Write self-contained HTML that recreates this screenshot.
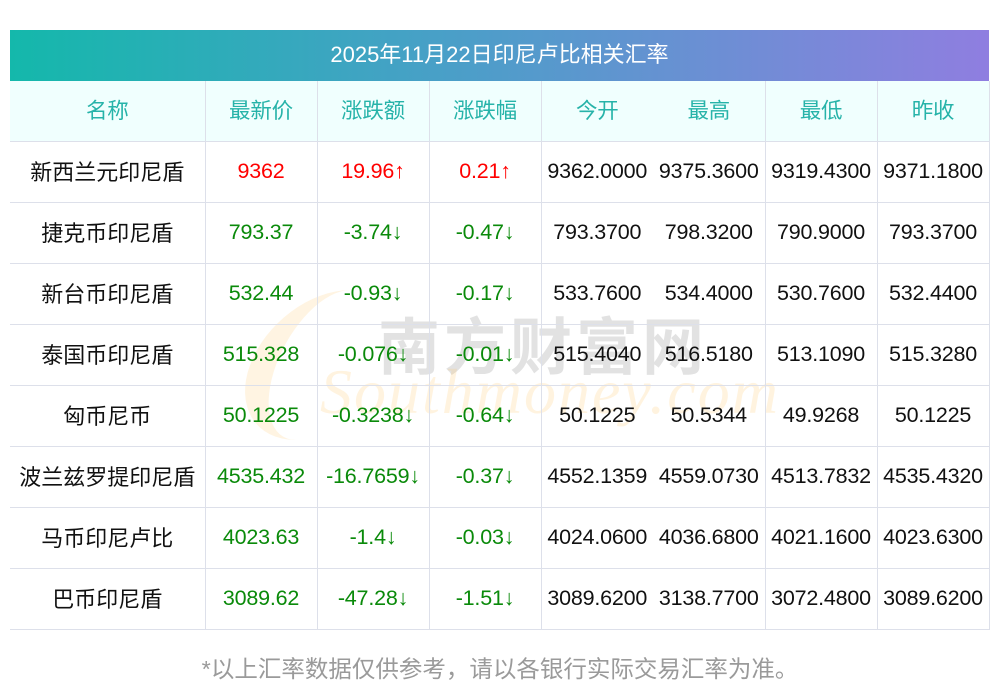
<!DOCTYPE html>
<html><head><meta charset="utf-8"><style>
body{margin:0;width:1000px;height:697px;background:#fff;position:relative;overflow:hidden;font-family:"Liberation Sans","Noto Sans CJK SC",sans-serif}
.title{position:absolute;left:10px;top:30px;width:979px;height:51px;background:linear-gradient(90deg,#14b8ab,#4a9fc8 45%,#8f7ee0);color:#fff;font-size:22px;line-height:49px;text-align:center}
table{position:absolute;left:10px;top:81px;border-collapse:collapse;table-layout:fixed;width:979px}
td{height:58px;padding:0 0 2px 0;border-bottom:1px solid #dde0ea;border-right:1px solid #dde0ea;text-align:center;font-size:21.5px;color:#111;white-space:nowrap;letter-spacing:-0.2px}
tr.h td{background:#f0fffe;color:#26b3a9;font-size:21.5px;height:56px;padding-bottom:4px}
td.nb{border-right:none}
td.n{font-size:22px;letter-spacing:0}
.r{color:#f00}.g{color:#0a8a0a}
.foot{position:absolute;top:650px;left:0;width:1000px;text-align:center;color:#9a9a9a;font-size:23.5px}
.wm1{position:absolute;left:378px;top:297px;font-size:62px;color:rgba(150,150,150,.28);letter-spacing:4px;font-weight:bold}
.wm2{position:absolute;left:320px;top:355px;font-size:64px;font-style:italic;color:rgba(255,200,110,.22);font-family:"Liberation Serif",serif;letter-spacing:2px}
.wm3{position:absolute;left:250px;top:290px;width:120px;height:150px;border-left:26px solid rgba(255,200,110,.2);border-radius:60% 0 0 60%;transform:skewX(-20deg)}
</style></head><body>
<div class="title">2025年11月22日印尼卢比相关汇率</div>
<div class="wm3"></div><div class="wm1">南方财富网</div><div class="wm2">Southmoney.com</div>
<table>
<colgroup><col style="width:195px"><col style="width:112px"><col style="width:112px"><col style="width:112px"><col style="width:112px"><col style="width:112px"><col style="width:112px"><col style="width:112px"></colgroup>
<tr class="h"><td>名称</td><td>最新价</td><td>涨跌额</td><td>涨跌幅</td><td class="nb">今开</td><td>最高</td><td>最低</td><td>昨收</td></tr>
<tr><td class="n">新西兰元印尼盾</td><td class="r">9362</td><td class="r">19.96↑</td><td class="r">0.21↑</td><td class="nb">9362.0000</td><td>9375.3600</td><td>9319.4300</td><td>9371.1800</td></tr>
<tr><td class="n">捷克币印尼盾</td><td class="g">793.37</td><td class="g">-3.74↓</td><td class="g">-0.47↓</td><td class="nb">793.3700</td><td>798.3200</td><td>790.9000</td><td>793.3700</td></tr>
<tr><td class="n">新台币印尼盾</td><td class="g">532.44</td><td class="g">-0.93↓</td><td class="g">-0.17↓</td><td class="nb">533.7600</td><td>534.4000</td><td>530.7600</td><td>532.4400</td></tr>
<tr><td class="n">泰国币印尼盾</td><td class="g">515.328</td><td class="g">-0.076↓</td><td class="g">-0.01↓</td><td class="nb">515.4040</td><td>516.5180</td><td>513.1090</td><td>515.3280</td></tr>
<tr><td class="n">匈币尼币</td><td class="g">50.1225</td><td class="g">-0.3238↓</td><td class="g">-0.64↓</td><td class="nb">50.1225</td><td>50.5344</td><td>49.9268</td><td>50.1225</td></tr>
<tr><td class="n">波兰兹罗提印尼盾</td><td class="g">4535.432</td><td class="g">-16.7659↓</td><td class="g">-0.37↓</td><td class="nb">4552.1359</td><td>4559.0730</td><td>4513.7832</td><td>4535.4320</td></tr>
<tr><td class="n">马币印尼卢比</td><td class="g">4023.63</td><td class="g">-1.4↓</td><td class="g">-0.03↓</td><td class="nb">4024.0600</td><td>4036.6800</td><td>4021.1600</td><td>4023.6300</td></tr>
<tr><td class="n">巴币印尼盾</td><td class="g">3089.62</td><td class="g">-47.28↓</td><td class="g">-1.51↓</td><td class="nb">3089.6200</td><td>3138.7700</td><td>3072.4800</td><td>3089.6200</td></tr>
</table>
<div class="foot">*以上汇率数据仅供参考，请以各银行实际交易汇率为准。</div>
</body></html>
